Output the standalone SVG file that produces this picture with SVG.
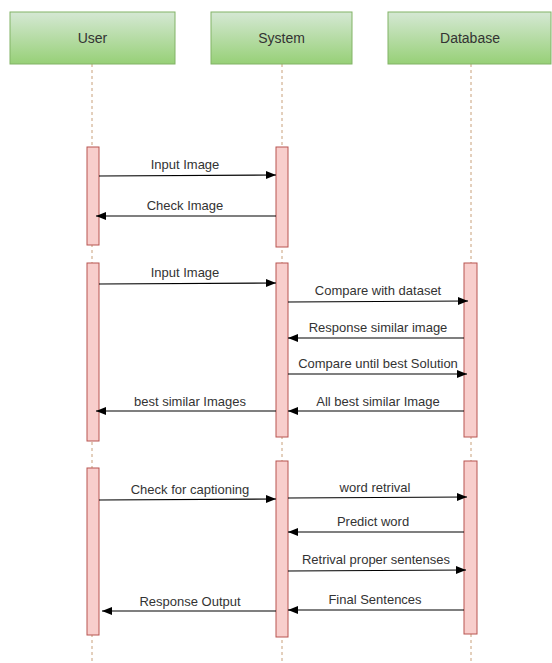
<svg xmlns="http://www.w3.org/2000/svg" width="552" height="663" viewBox="0 0 552 663">
<defs>
<linearGradient id="g" x1="0" y1="0" x2="0" y2="1">
<stop offset="0" stop-color="#d5e8d4"/>
<stop offset="1" stop-color="#97d077"/>
</linearGradient>
<marker id="ah" viewBox="0 0 10 10" refX="10" refY="5" markerWidth="10" markerHeight="10" markerUnits="userSpaceOnUse" orient="auto">
<path d="M0,1 L10,5 L0,9 Z" fill="#000"/>
</marker>
<style>
.hd{fill:url(#g);stroke:#82b366;stroke-width:1}
.ht{font-family:"Liberation Sans",Arial,sans-serif;font-size:14px;fill:#333;text-anchor:middle}
.life{stroke:#c8a07a;stroke-width:1;stroke-dasharray:3,3;fill:none}
.act{fill:#f8cecc;stroke:#b85450;stroke-width:1}
.msg{stroke:#000;stroke-width:1.2;fill:none;marker-end:url(#ah)}
.lb{font-family:"Liberation Sans",Arial,sans-serif;font-size:13px;fill:#333;text-anchor:middle}
</style>
</defs>
<rect width="552" height="663" fill="#fff"/>
<g id="lifelines">
<line class="life" x1="92" y1="64" x2="92" y2="663"/>
<line class="life" x1="282" y1="64" x2="282" y2="663"/>
<line class="life" x1="471" y1="64" x2="471" y2="663"/>
</g>
<g id="user"><rect class="hd" x="10" y="12" width="165" height="52"/><text class="ht" x="92.5" y="43">User</text></g>
<g id="system"><rect class="hd" x="211" y="12" width="141" height="52"/><text class="ht" x="281.5" y="43">System</text></g>
<g id="database"><rect class="hd" x="388" y="12" width="163" height="52"/><text class="ht" x="470" y="43">Database</text></g>
<g id="activations">
<rect class="act" x="87" y="147" width="12" height="98"/>
<rect class="act" x="276" y="147" width="12" height="100"/>
<rect class="act" x="87" y="263" width="12" height="178"/>
<rect class="act" x="276" y="263" width="12" height="174"/>
<rect class="act" x="464" y="263" width="13" height="174"/>
<rect class="act" x="87" y="468" width="12" height="167"/>
<rect class="act" x="276" y="461" width="12" height="176"/>
<rect class="act" x="464" y="461" width="13" height="173"/>
</g>
<g id="connectors">
<line class="msg" x1="99" y1="176" x2="276" y2="175"/>
<line class="msg" x1="276" y1="216" x2="96" y2="216"/>
<line class="msg" x1="99" y1="284" x2="276" y2="283"/>
<line class="msg" x1="288" y1="302" x2="468" y2="301"/>
<line class="msg" x1="464" y1="338" x2="288" y2="338"/>
<line class="msg" x1="288" y1="374" x2="467" y2="374"/>
<line class="msg" x1="464" y1="411" x2="288" y2="411"/>
<line class="msg" x1="276" y1="411" x2="96" y2="411"/>
<line class="msg" x1="99" y1="500" x2="276" y2="499"/>
<line class="msg" x1="288" y1="498" x2="467" y2="497"/>
<line class="msg" x1="464" y1="532" x2="288" y2="532"/>
<line class="msg" x1="288" y1="571" x2="466" y2="570"/>
<line class="msg" x1="464" y1="610" x2="288" y2="610"/>
<line class="msg" x1="276" y1="611" x2="102" y2="611"/>
</g>
<g id="labels">
<text class="lb" x="185" y="169">Input Image</text>
<text class="lb" x="185" y="210">Check Image</text>
<text class="lb" x="185" y="277">Input Image</text>
<text class="lb" x="378" y="295">Compare with dataset</text>
<text class="lb" x="378" y="332">Response similar image</text>
<text class="lb" x="378" y="368">Compare until best Solution</text>
<text class="lb" x="378" y="406">All best similar Image</text>
<text class="lb" x="190" y="406">best similar Images</text>
<text class="lb" x="190" y="494">Check for captioning</text>
<text class="lb" x="375" y="492">word retrival</text>
<text class="lb" x="373" y="526">Predict word</text>
<text class="lb" x="376" y="564">Retrival proper sentenses</text>
<text class="lb" x="375" y="604">Final Sentences</text>
<text class="lb" x="190" y="606">Response Output</text>
</g>
</svg>
